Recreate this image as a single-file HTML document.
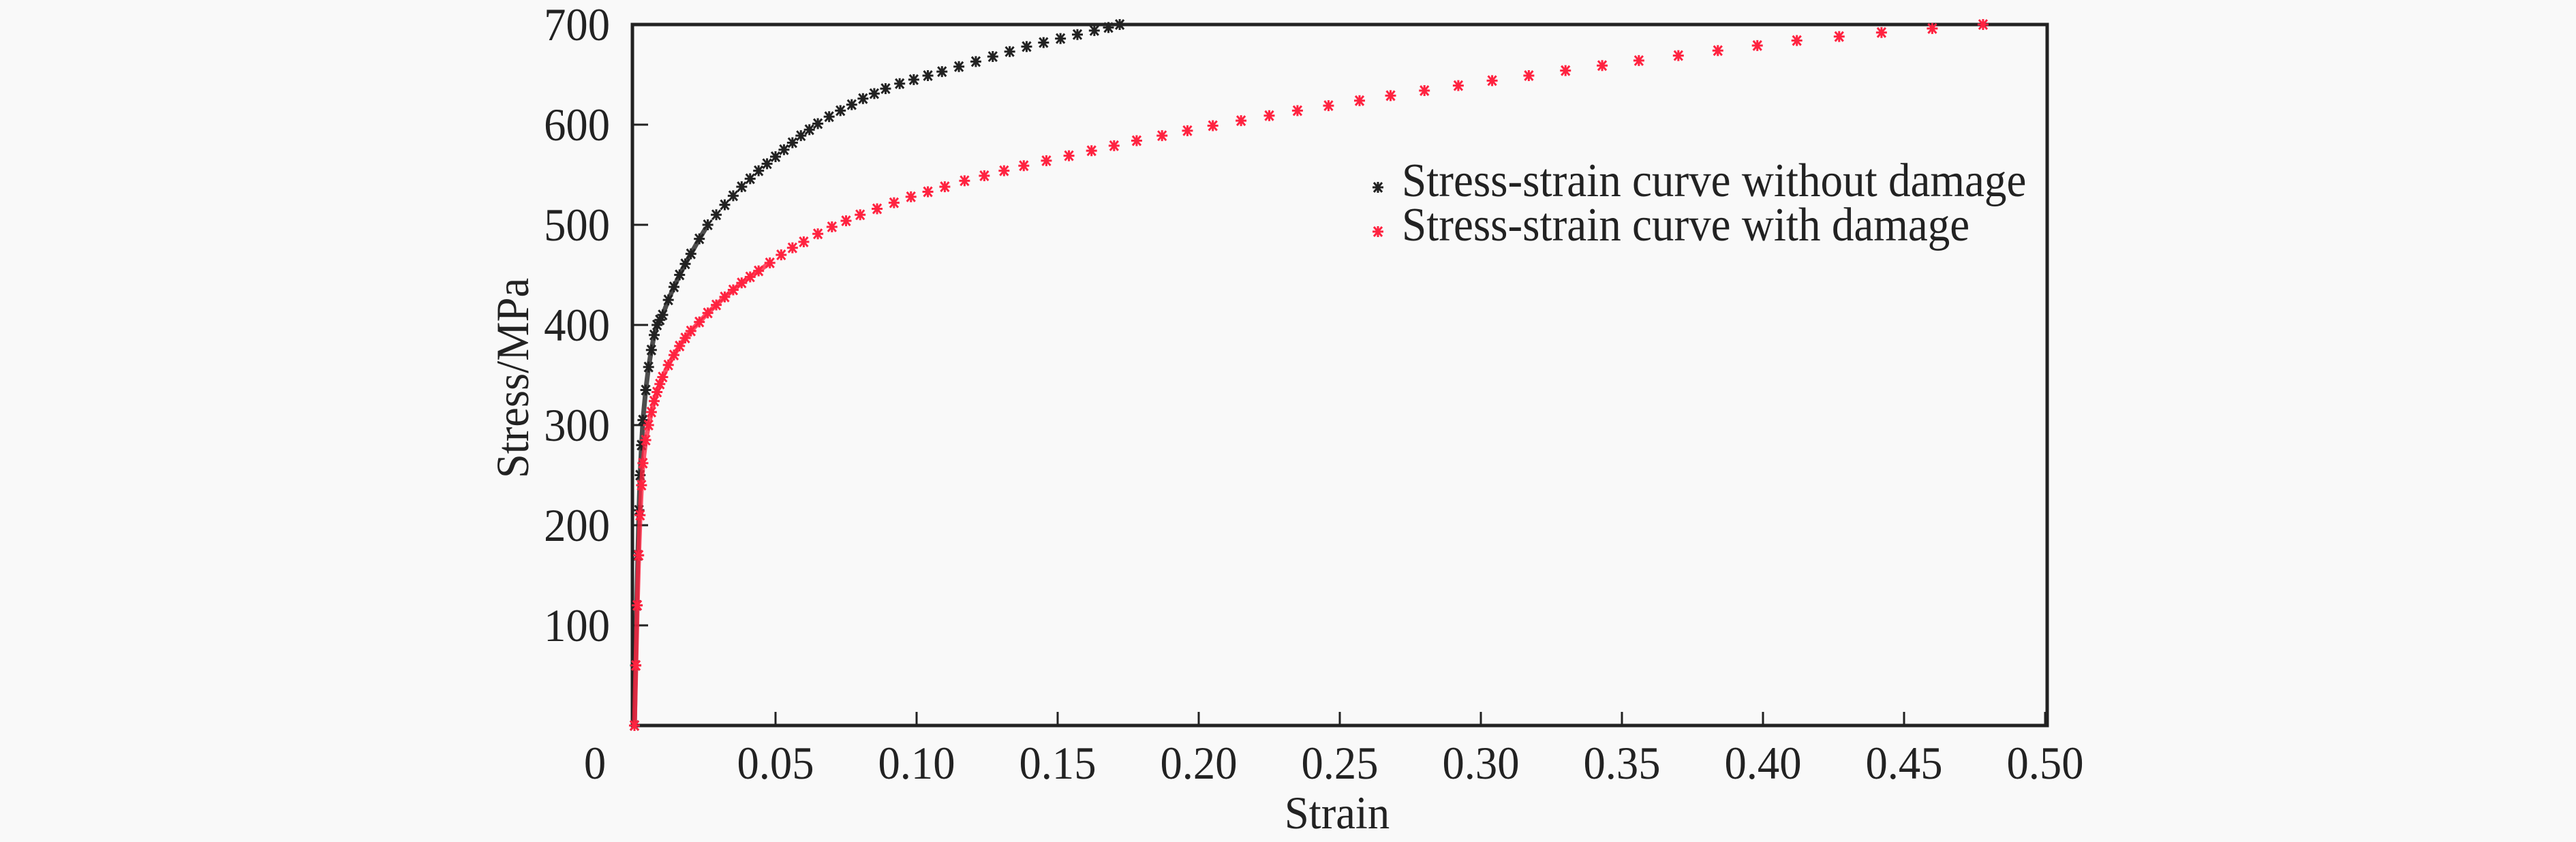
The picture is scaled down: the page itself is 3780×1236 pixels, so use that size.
<!DOCTYPE html>
<html><head><meta charset="utf-8"><style>
html,body{margin:0;padding:0;background:#f9f9f9;}
svg{display:block;font-family:"Liberation Serif",serif;}
</style></head><body>
<svg id="chart" width="3780" height="1236" viewBox="0 0 3780 1236">
<rect width="3780" height="1236" fill="#f9f9f9"/>
<g id="plot"></g>
</svg>
<script>
const xTicks = [0.05,0.10,0.15,0.20,0.25,0.30,0.35,0.40,0.45,0.50];
const xTickLabels = ["0.05","0.10","0.15","0.20","0.25","0.30","0.35","0.40","0.45","0.50"];
const yTicks = [100,200,300,400,500,600,700];
const yTickLabels = ["100","200","300","400","500","600","700"];
const noDamageStrain = [0,0.0004,0.0008,0.0012,0.0016,0.002,0.0025,0.003,0.004,0.005,0.006,0.007,0.008,0.009,0.010,0.012,0.014,0.016,0.018,0.020,0.023,0.026,0.029,0.032,0.035,0.038,0.041,0.044,0.047,0.050,0.053,0.056,0.059,0.062,0.065,0.069,0.073,0.077,0.081,0.085,0.089,0.094,0.099,0.104,0.109,0.115,0.121,0.127,0.133,0.139,0.145,0.151,0.157,0.163,0.168,0.172];
const noDamageStress = [0,60,120,170,215,250,280,305,335,358,375,390,400,405,410,425,438,450,461,471,486,500,510,520,529,538,546,554,561,568,575,582,589,595,601,608,614,620,626,631,636,641,645,649,653,658,663,668,673,678,682,686,690,694,697,700];
const damageStrain = [0,0.0005,0.001,0.0015,0.002,0.0025,0.003,0.004,0.005,0.006,0.007,0.008,0.009,0.010,0.012,0.014,0.016,0.018,0.020,0.023,0.026,0.029,0.032,0.035,0.038,0.041,0.044,0.048,0.052,0.056,0.060,0.065,0.070,0.075,0.080,0.086,0.092,0.098,0.104,0.110,0.117,0.124,0.131,0.138,0.146,0.154,0.162,0.170,0.178,0.187,0.196,0.205,0.215,0.225,0.235,0.246,0.257,0.268,0.280,0.292,0.304,0.317,0.330,0.343,0.356,0.370,0.384,0.398,0.412,0.427,0.442,0.460,0.478];
const damageStress = [0,60,120,170,210,240,262,285,300,313,324,333,341,348,360,370,379,387,394,403,412,420,428,435,442,448,454,462,470,477,483,491,498,504,510,516,522,528,533,538,544,549,554,559,564,569,574,579,584,589,594,599,604,609,614,619,624,629,634,639,644,649,654,659,664,669,674,679,684,688,692,696,700];

const NS="http://www.w3.org/2000/svg";
const g=document.getElementById('plot');
const X0=931,X1=3001,Y0=1065,Y1=36;
function sx(v){return X0+(v-0)/(0.5-0)*(X1-X0);}
function sy(v){return Y0-(v-0)/(700-0)*(Y0-Y1);}
function mk(tag,attrs){const e=document.createElementNS(NS,tag);for(const k in attrs)e.setAttribute(k,attrs[k]);g.appendChild(e);return e;}
function txt(x,y,size,anchor,sxf,str,extra){
  const e=mk('text',{x:0,y:0,'font-size':size,'text-anchor':anchor,fill:'#222',transform:`translate(${x},${y}) ${extra||''} scale(${sxf},1)`});
  e.textContent=str;
  return e;
}

const frame=mk('rect',{x:928,y:Y1,width:3004-928,height:Y0-Y1,fill:'none',stroke:'#222','stroke-width':5});



xTicks.forEach((t,i)=>{
  const l=mk('line',{x1:sx(t),x2:sx(t),y1:Y0,y2:Y0-20,stroke:'#222','stroke-width':3});
  
  
  const tx=txt(sx(t),1143,68,'middle',0.95,xTickLabels[i]);
  
  
});
const z=txt(873,1143,68,'middle',0.95,'0');



yTicks.forEach((t,i)=>{
  const l=mk('line',{x1:X0-3,x2:X0+20,y1:sy(t),y2:sy(t),stroke:'#222','stroke-width':3});
  
  
  const tx=txt(895,sy(t)+23,68,'end',0.95,yTickLabels[i]);
  
  
});

const xt=txt(1962,1216,68,'middle',0.95,'Strain');


const yt=txt(775,555,68,'middle',0.95,'Stress/MPa','rotate(-90)');



function star(cx,cy,color,name){
  const s=mk('path',{d:`M${cx-8},${cy}H${cx+8}M${cx-6},${cy-7}L${cx+6},${cy+7}M${cx+6},${cy-7}L${cx-6},${cy+7}M${cx},${cy-8}V${cy+8}`,stroke:color,'stroke-width':3});
  
  
}
function series(xs,ys,color,name){
  let d='';
  xs.forEach((x,i)=>{d+=(i?'L':'M')+sx(x)+','+sy(ys[i]);});
  const p=mk('path',{d:d,fill:'none',stroke:color,'stroke-width':7,opacity:0.8,'stroke-dasharray':'750 100000'});
  
  
  xs.forEach((x,i)=>star(sx(x),sy(ys[i]),color,name+'-point'));
}
series(noDamageStrain,noDamageStress,'#222','no-damage');
series(damageStrain,damageStress,'#ff2340','damage');

star(2022,275,'#222','legend-marker-no-damage');
star(2022,340,'#ff2340','legend-marker-damage');
const l1=txt(2057,288,70,'start',0.93,'Stress-strain curve without damage');


const l2=txt(2057,353,70,'start',0.93,'Stress-strain curve with damage');


</script>
</body></html>
